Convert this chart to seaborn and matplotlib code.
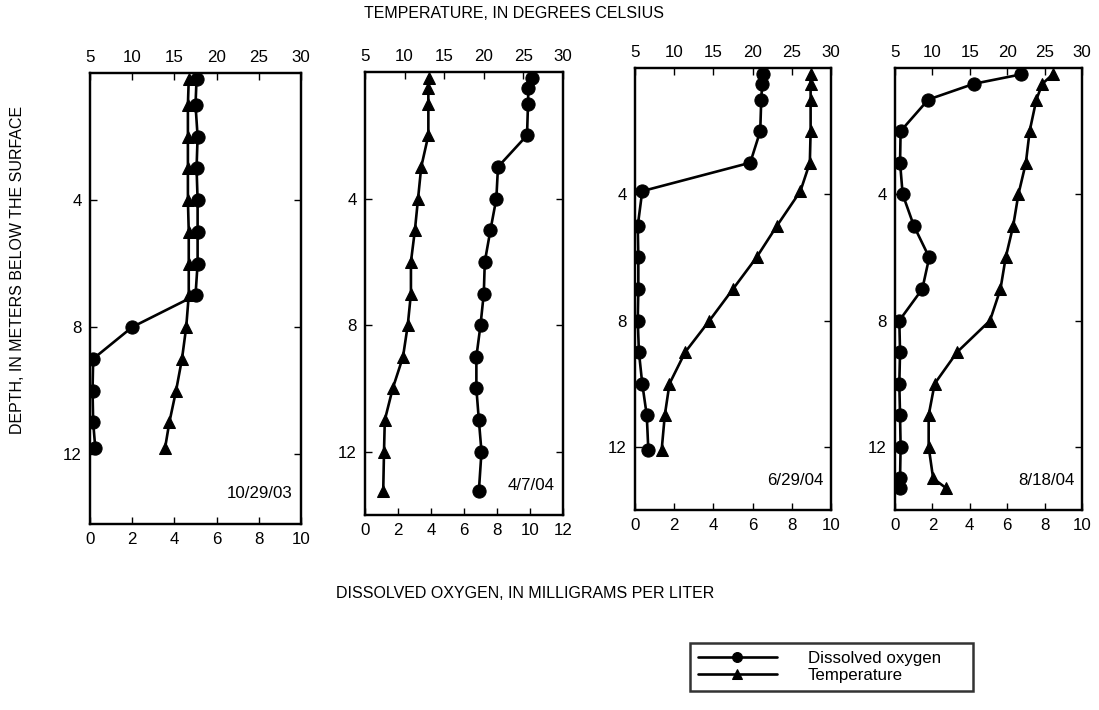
import matplotlib
matplotlib.use("Agg")
import matplotlib.pyplot as plt
import seaborn as sns
import pandas as pd

# ---------------- data ----------------
dates = ["10/29/03", "4/7/04", "6/29/04", "8/18/04"]

p1_depth = [0.2, 1, 2, 3, 4, 5, 6, 7, 8, 9, 10, 11, 11.8]
p1_do = [5.05, 5.0, 5.1, 5.05, 5.1, 5.1, 5.1, 5.0, 2.0, 0.15, 0.12, 0.15, 0.25]
p1_temp = [16.7, 16.6, 16.6, 16.6, 16.6, 16.7, 16.7, 16.7, 16.4, 15.9, 15.2, 14.4, 13.9]

p2_depth = [0.2, 0.5, 1, 2, 3, 4, 5, 6, 7, 8, 9, 10, 11, 12, 13.25]
p2_do = [10.15, 9.9, 9.88, 9.82, 8.06, 7.96, 7.6, 7.26, 7.2, 7.0, 6.75, 6.75, 6.9, 7.06, 6.9]
p2_temp = [13.1, 13.0, 13.0, 13.0, 12.1, 11.7, 11.3, 10.8, 10.8, 10.4, 9.8, 8.5, 7.5, 7.4, 7.3]

p3_depth = [0.2, 0.5, 1, 2, 3, 3.9, 5, 6, 7, 8, 9, 10, 11, 12.1]
p3_do = [6.52, 6.49, 6.44, 6.39, 5.88, 0.37, 0.14, 0.17, 0.17, 0.14, 0.2, 0.37, 0.6, 0.68]
p3_temp = [27.4, 27.4, 27.4, 27.4, 27.3, 26.1, 23.1, 20.5, 17.5, 14.5, 11.4, 9.4, 8.8, 8.4]

p4_depth = [0.2, 0.5, 1, 2, 3, 4, 5, 6, 7, 8, 9, 10, 11, 12, 13, 13.3]
p4_do = [6.76, 4.22, 1.78, 0.3, 0.27, 0.41, 1.01, 1.83, 1.46, 0.23, 0.27, 0.23, 0.27, 0.3, 0.27, 0.27]
p4_temp = [26.1, 24.7, 23.9, 23.0, 22.5, 21.5, 20.8, 19.8, 19.1, 17.7, 13.3, 10.3, 9.5, 9.5, 10.1, 11.8]

do_max = [10, 12, 10, 10]
depth_max = [14.2, 14.0, 14.0, 14.0]
temp_ticks = [5, 10, 15, 20, 25, 30]
depth_ticks = [4, 8, 12]

panels = [
    (p1_depth, p1_do, p1_temp),
    (p2_depth, p2_do, p2_temp),
    (p3_depth, p3_do, p3_temp),
    (p4_depth, p4_do, p4_temp),
]

# ---------------- style ----------------
sns.set_style("ticks")
plt.rcParams["font.family"] = ["Liberation Sans", "DejaVu Sans"]
plt.rcParams["font.size"] = 12
for key in ["text.color", "axes.labelcolor", "xtick.color", "ytick.color", "axes.edgecolor"]:
    plt.rcParams[key] = "black"
FS = 12.2
FT = 11.5

fig = plt.figure(figsize=(10.99, 7.10), dpi=100)

# axes rectangles in pixels: (left, top, right, bottom)
rects = [(90, 73, 301, 524), (365, 72, 563, 515), (635, 68, 831, 510), (895, 68, 1082, 510)]
W, H = 1099, 710

handles = None
for i, ((depth, do, temp), (l, t, r, b)) in enumerate(zip(panels, rects)):
    ax = fig.add_axes([l / W, 1 - b / H, (r - l) / W, (b - t) / H])
    ax2 = ax.twiny()
    df = pd.DataFrame({"depth": depth, "do": do, "temp": temp})
    sns.lineplot(data=df, x="do", y="depth", sort=False, estimator=None, ax=ax,
                 color="black", linewidth=1.9, marker="o", markersize=9.5,
                 markeredgecolor="black", label="Dissolved oxygen", legend=False)
    sns.lineplot(data=df, x="temp", y="depth", sort=False, estimator=None, ax=ax2,
                 color="black", linewidth=1.9, marker="^", markersize=9,
                 markeredgecolor="black", label="Temperature", legend=False)
    ax.set_xlim(0, do_max[i])
    ax2.set_xlim(5, 30)
    ax.set_ylim(depth_max[i], 0)
    ax.set_xticks(list(range(0, do_max[i] + 1, 2)))
    ax2.set_xticks(temp_ticks)
    ax.set_yticks(depth_ticks)
    ax.set_xlabel("")
    ax.set_ylabel("")
    ax2.set_xlabel("")
    ax.tick_params(axis="both", direction="in", length=5, width=1, labelsize=FS,
                   top=False, right=True, pad=6, colors="black")
    ax2.tick_params(axis="x", direction="in", length=5, width=1, labelsize=FS, pad=6,
                    colors="black")
    for sp in list(ax.spines.values()) + list(ax2.spines.values()):
        sp.set_linewidth(1.6)
        sp.set_color("black")
    ax.text(0.96, 0.05, dates[i], transform=ax.transAxes, ha="right", va="bottom",
            fontsize=FS, color="black")
    if handles is None:
        handles = [ax.lines[0], ax2.lines[0]]

fig.text(514 / W, 1 - 14 / H, "TEMPERATURE, IN DEGREES CELSIUS", ha="center",
         va="center", fontsize=FT, color="black")
fig.text(525 / W, 1 - 593 / H, "DISSOLVED OXYGEN, IN MILLIGRAMS PER LITER",
         ha="center", va="center", fontsize=FT, color="black")
fig.text(18 / W, 1 - 270 / H, "DEPTH, IN METERS BELOW THE SURFACE", ha="center",
         va="center", rotation=90, fontsize=FT, color="black")

leg = fig.legend(handles, ["Dissolved oxygen", "Temperature"],
                 bbox_to_anchor=(690 / W, 1 - 707 / H, (973 - 690) / W, 64 / H),
                 loc="upper left", mode="expand", borderaxespad=0,
                 frameon=True, fancybox=False, edgecolor="black", fontsize=FS,
                 handlelength=4.7, handletextpad=1.8, labelspacing=0.15,
                 borderpad=0.45, markerscale=0.75)
leg.get_frame().set_linewidth(1.8)
for txt in leg.get_texts():
    txt.set_color("black")

fig.savefig("out.png", dpi=100)
